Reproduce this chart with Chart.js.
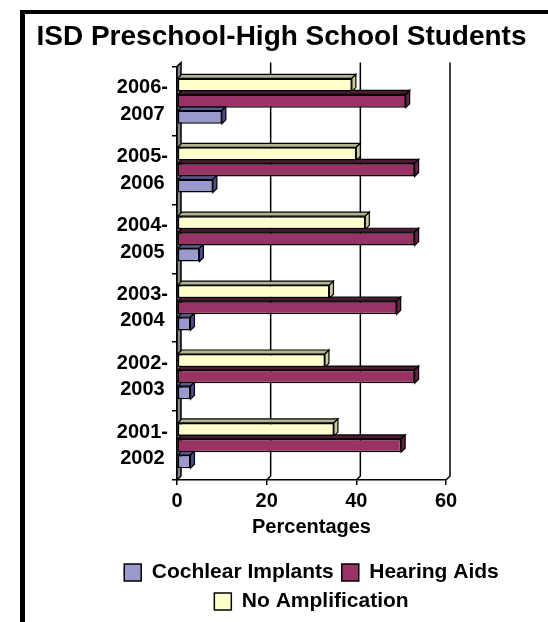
<!DOCTYPE html>
<html>
<head>
<meta charset="utf-8">
<script src="https://cdn.jsdelivr.net/npm/chart.js@4"></script>
<style>
  html, body { margin: 0; padding: 0; background: #fff; }
  #frame {
    position: absolute; left: 20px; top: 10px;
    width: 523px; height: 608px;
    border-left: 5px solid #000; border-top: 4px solid #000;
  }
</style>
</head>
<body>
<div id="frame"><canvas id="grafico" width="523" height="608"></canvas></div>
<script>
// dados do gráfico (de cima para baixo)
const anos = [['2006-', '2007'], ['2005-', '2006'], ['2004-', '2005'], ['2003-', '2004'], ['2002-', '2003'], ['2001-', '2002']];
const semAmplificacao = [39, 40, 42, 34, 33, 35];
const aparelhos = [51, 53, 53, 49, 53, 50];
const implantes = [10, 8, 5, 3, 3, 3];
const marcasX = [0, 20, 40, 60];

const fonte = 'Arial, "Liberation Sans", sans-serif';
const prof = 4; // profundidade do efeito 3D

// cores das faces 3D (topo e lado), na ordem dos datasets
const faces = [
    { topo: '#b3b38f', lado: '#cccc99' },
    { topo: '#4d1a33', lado: '#662244' },
    { topo: '#5c5c99', lado: '#4c4c8c' }
];

// Desenha parede, grade e faces 3D das barras
const efeito3D = {
    id: 'efeito3D',
    afterLayout(chart) {
        // legenda centralizada sob a área do gráfico
        const desloc = (chart.chartArea.left + chart.chartArea.right) / 2 - (chart.legend.left + chart.legend.right) / 2;
        chart.legend.left += desloc;
        chart.legend.right += desloc;
    },
    beforeDatasetsDraw(chart) {
        const ctx = chart.ctx;
        const area = chart.chartArea;
        const x = chart.scales.x;
        ctx.save();
        ctx.lineWidth = 1.5;
        ctx.strokeStyle = '#000';

        // parede esquerda
        ctx.fillStyle = '#888';
        ctx.beginPath();
        ctx.moveTo(area.left, area.top);
        ctx.lineTo(area.left + prof, area.top - prof);
        ctx.lineTo(area.left + prof, area.bottom - prof);
        ctx.lineTo(area.left, area.bottom);
        ctx.closePath();
        ctx.fill();
        ctx.stroke();

        // linhas de grade ao fundo
        marcasX.slice(1).forEach(v => {
            const px = x.getPixelForValue(v);
            ctx.beginPath();
            ctx.moveTo(px + prof, area.top - prof);
            ctx.lineTo(px + prof, area.bottom - prof);
            ctx.lineTo(px, area.bottom);
            ctx.stroke();
        });

        // faces de topo e lateral das barras
        ctx.lineWidth = 1.2;
        chart.data.datasets.forEach((ds, i) => {
            const meta = chart.getDatasetMeta(i);
            meta.data.forEach(bar => {
                const p = bar.getProps(['x', 'y', 'base', 'height'], true);
                const t = p.y - p.height / 2;
                const b = p.y + p.height / 2;
                ctx.fillStyle = faces[i].topo;
                ctx.beginPath();
                ctx.moveTo(p.base, t);
                ctx.lineTo(p.base + prof, t - prof);
                ctx.lineTo(p.x + prof, t - prof);
                ctx.lineTo(p.x, t);
                ctx.closePath();
                ctx.fill();
                ctx.stroke();
                ctx.fillStyle = faces[i].lado;
                ctx.beginPath();
                ctx.moveTo(p.x, t);
                ctx.lineTo(p.x + prof, t - prof);
                ctx.lineTo(p.x + prof, b - prof);
                ctx.lineTo(p.x, b);
                ctx.closePath();
                ctx.fill();
                ctx.stroke();
            });
        });
        ctx.restore();
    }
};

const ctx = document.getElementById('grafico').getContext('2d');
const grafico = new Chart(ctx, {
    type: 'bar',
    data: {
        labels: anos,
        datasets: [
            { label: 'No Amplification', data: semAmplificacao, backgroundColor: '#ffffcc' },
            { label: 'Hearing Aids', data: aparelhos, backgroundColor: '#993366' },
            { label: 'Cochlear Implants', data: implantes, backgroundColor: '#9999cc' }
        ].map(ds => Object.assign(ds, {
            borderColor: '#000',
            borderWidth: 1.5,
            borderSkipped: false,
            categoryPercentage: 0.7,
            barPercentage: 0.82
        }))
    },
    options: {
        indexAxis: 'y',
        responsive: false,
        animation: false,
        layout: { padding: { bottom: 0, right: 10 } },
        scales: {
            x: {
                min: 0,
                max: 60,
                afterBuildTicks: s => { s.ticks = marcasX.map(v => ({ value: v })); },
                grid: { display: true, drawOnChartArea: false, color: '#000', lineWidth: 1.5, tickLength: 5 },
                border: { color: '#000', width: 1.5 },
                ticks: { color: '#000', padding: 6, font: { family: fonte, size: 20, weight: 'bold', lineHeight: 1 } },
                title: {
                    display: true,
                    text: 'Percentages',
                    color: '#000',
                    padding: { top: 0, bottom: 17 },
                    font: { family: fonte, size: 20, weight: 'bold', lineHeight: 1 }
                }
            },
            y: {
                afterFit: s => { s.width = 152; },
                grid: { display: true, drawOnChartArea: false, offset: true, color: '#000', lineWidth: 1.5, tickLength: 5 },
                border: { color: '#000', width: 1.5 },
                ticks: {
                    color: '#000',
                    padding: 4,
                    crossAlign: 'center',
                    font: { family: fonte, size: 20, weight: 'bold', lineHeight: 1.32 }
                }
            },
            direita: {
                type: 'linear',
                position: 'right',
                display: true,
                afterFit: s => { s.width = 92; },
                grid: { display: false },
                border: { display: false },
                ticks: { display: false }
            }
        },
        plugins: {
            title: {
                display: true,
                text: 'ISD Preschool-High School Students',
                color: '#000',
                padding: { top: 6, bottom: 13 },
                font: { family: fonte, size: 28, weight: 'bold' }
            },
            legend: {
                position: 'bottom',
                labels: {
                    color: '#000',
                    boxWidth: 17,
                    boxHeight: 17,
                    padding: 8,
                    sort: (a, b) => b.datasetIndex - a.datasetIndex,
                    font: { family: fonte, size: 21, weight: 'bold' }
                }
            },
            tooltip: { enabled: false }
        }
    },
    plugins: [efeito3D]
});
</script>
</body>
</html>
